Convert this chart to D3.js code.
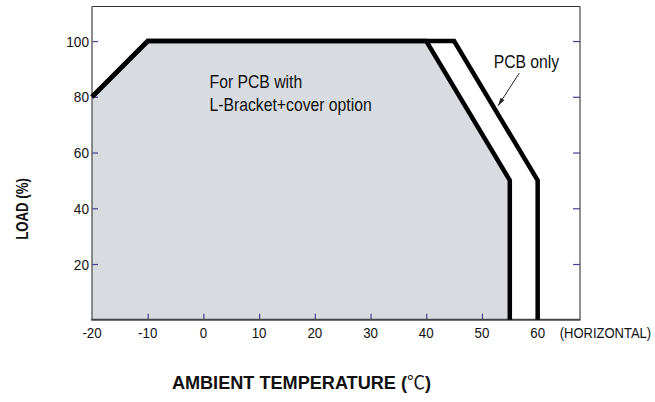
<!DOCTYPE html>
<html>
<head>
<meta charset="utf-8">
<script src="https://cdn.jsdelivr.net/npm/d3@7/dist/d3.min.js"></script>
<style>
  html, body { margin: 0; padding: 0; background: #fff; }
  svg { display: block; }
  text { font-family: "Liberation Sans", Arial, sans-serif; }
</style>
</head>
<body>
<svg id="chart" width="655" height="402"></svg>
<script>
// ---- data ----
const xTicks = [-20, -10, 0, 10, 20, 30, 40, 50, 60];
const yTicks = [20, 40, 60, 80, 100];
// derating curve: PCB with L-Bracket + cover option (shaded)
const bracketTemp = [-20, -10, 40, 55, 55];
const bracketLoad = [80, 100, 100, 50, 0];
// derating curve: PCB only
const pcbTemp = [-20, -10, 45, 60, 60];
const pcbLoad = [80, 100, 100, 50, 0];
const labelBracket = ["For PCB with", "L-Bracket+cover option"];
const labelPcb = "PCB only";
const xTitle = "AMBIENT TEMPERATURE (";
const xUnit = "℃";
const yTitle = "LOAD (%)";
const xNote = "(HORIZONTAL)";

// ---- layout ----
const svg = d3.select("#chart");
const x = d3.scaleLinear().domain([-20, 67.6]).range([92, 580]);
const y = d3.scaleLinear().domain([0, 112.4]).range([319.75, 6.5]);

const bracket = bracketTemp.map((t, i) => [t, bracketLoad[i]]);
const pcb = pcbTemp.map((t, i) => [t, pcbLoad[i]]);

const line = d3.line().x(d => x(d[0])).y(d => y(d[1]));

// helper: text with horizontal condensing
function addText(g, px, py, str, o) {
  const t = g.append("text")
    .attr("transform", `translate(${px},${py})${o.rotate ? " rotate(" + o.rotate + ")" : ""} scale(${o.sx || 1},1)`)
    .attr("text-anchor", o.anchor || "start")
    .attr("font-size", o.size)
    .attr("font-weight", o.weight || "normal")
    .attr("fill", "#111")
    .text(str);
  return t;
}

// shaded area under bracket curve
svg.append("path")
  .attr("d", line([[ -20, 0 ], ...bracket]) + "Z")
  .attr("fill", "#d8dbe0");

// frame: top and right thin lines
svg.append("line").attr("x1", x(-20)).attr("x2", x(67.6)).attr("y1", y(112.4)).attr("y2", y(112.4))
  .attr("stroke", "#333").attr("stroke-width", 1);
svg.append("line").attr("x1", x(67.6)).attr("x2", x(67.6)).attr("y1", y(112.4)).attr("y2", y(0))
  .attr("stroke", "#222").attr("stroke-width", 1);

// ticks (inward, purple)
const tickColor = "#4a3e96";
const yAxisL = d3.axisRight(y).tickValues(yTicks).tickSize(6).tickFormat("");
const gL = svg.append("g").attr("transform", `translate(${x(-20)},0)`).call(yAxisL);
gL.select(".domain").remove();
gL.selectAll(".tick line").attr("stroke", tickColor).attr("stroke-width", 1.2);
const yAxisR = d3.axisLeft(y).tickValues(yTicks).tickSize(7).tickFormat("");
const gR = svg.append("g").attr("transform", `translate(${x(67.6)},0)`).call(yAxisR);
gR.select(".domain").remove();
gR.selectAll(".tick line").attr("stroke", tickColor).attr("stroke-width", 1.2);
const xAxisB = d3.axisTop(x).tickValues(xTicks.filter(t => t > -20)).tickSize(6).tickFormat("");
const gB = svg.append("g").attr("transform", `translate(0,${y(0)})`).call(xAxisB);
gB.select(".domain").remove();
gB.selectAll(".tick line").attr("stroke", tickColor).attr("stroke-width", 1.2);

// left axis line (grey) and bottom axis line (dark)
svg.append("line").attr("x1", x(-20)).attr("x2", x(-20)).attr("y1", y(112.4)).attr("y2", y(0))
  .attr("stroke", "#666").attr("stroke-width", 1.5);
svg.append("line").attr("x1", x(-20) - 0.75).attr("x2", x(67.6) + 0.5).attr("y1", y(0)).attr("y2", y(0))
  .attr("stroke", "#444").attr("stroke-width", 2);

// derating curves
[pcb, bracket].forEach(pts => {
  svg.append("path").attr("d", line(pts))
    .attr("fill", "none").attr("stroke", "#000").attr("stroke-width", 4.5)
    .attr("stroke-linejoin", "miter").attr("stroke-linecap", "butt");
});

// tick labels
yTicks.forEach(d => addText(svg, x(-20) - 3, y(d) + 5.5, d, { size: 15.5, sx: 0.88, anchor: "end" }));
xTicks.forEach(d => addText(svg, x(d), y(0) + 18.2, d, { size: 15.5, sx: 0.86, anchor: "middle" }));
addText(svg, x(60) + 22, y(0) + 18.2, xNote, { size: 15.5, sx: 0.84 });

// annotations
addText(svg, x(1.1), y(83.1), labelBracket[0], { size: 17.5, sx: 0.9 });
addText(svg, x(1.1), y(74.9), labelBracket[1], { size: 17.5, sx: 0.9 });
addText(svg, x(52.1), y(90.2), labelPcb, { size: 17.5, sx: 0.9 });

// arrow to PCB only curve
const arrowFrom = [56.7, 88.5], arrowTo = [52.9, 76.8];
const ax1 = x(arrowFrom[0]), ay1 = y(arrowFrom[1]), ax2 = x(arrowTo[0]), ay2 = y(arrowTo[1]);
svg.append("line").attr("x1", ax1).attr("y1", ay1).attr("x2", ax2).attr("y2", ay2)
  .attr("stroke", "#222").attr("stroke-width", 1);
const ang = Math.atan2(ay2 - ay1, ax2 - ax1);
const hl = 8, hw = 2.2;
const bx = ax2 - hl * Math.cos(ang), by = ay2 - hl * Math.sin(ang);
svg.append("path")
  .attr("d", `M${ax2},${ay2}L${bx + hw * Math.sin(ang)},${by - hw * Math.cos(ang)}L${bx - hw * Math.sin(ang)},${by + hw * Math.cos(ang)}Z`)
  .attr("fill", "#222");

// axis titles
const xt = svg.append("text").attr("transform", "translate(301.5,389) scale(0.98,1)").attr("text-anchor", "middle")
  .attr("font-size", 18.5).attr("font-weight", "bold").attr("fill", "#111");
xt.append("tspan").text(xTitle);
xt.append("tspan").attr("font-weight", "normal").attr("font-family", "'Noto Sans CJK SC', sans-serif").text(xUnit);
xt.append("tspan").text(")");

addText(svg, 27.5, 209, yTitle, { size: 16.5, weight: "bold", sx: 0.8, anchor: "middle", rotate: -90 });
</script>
</body>
</html>
